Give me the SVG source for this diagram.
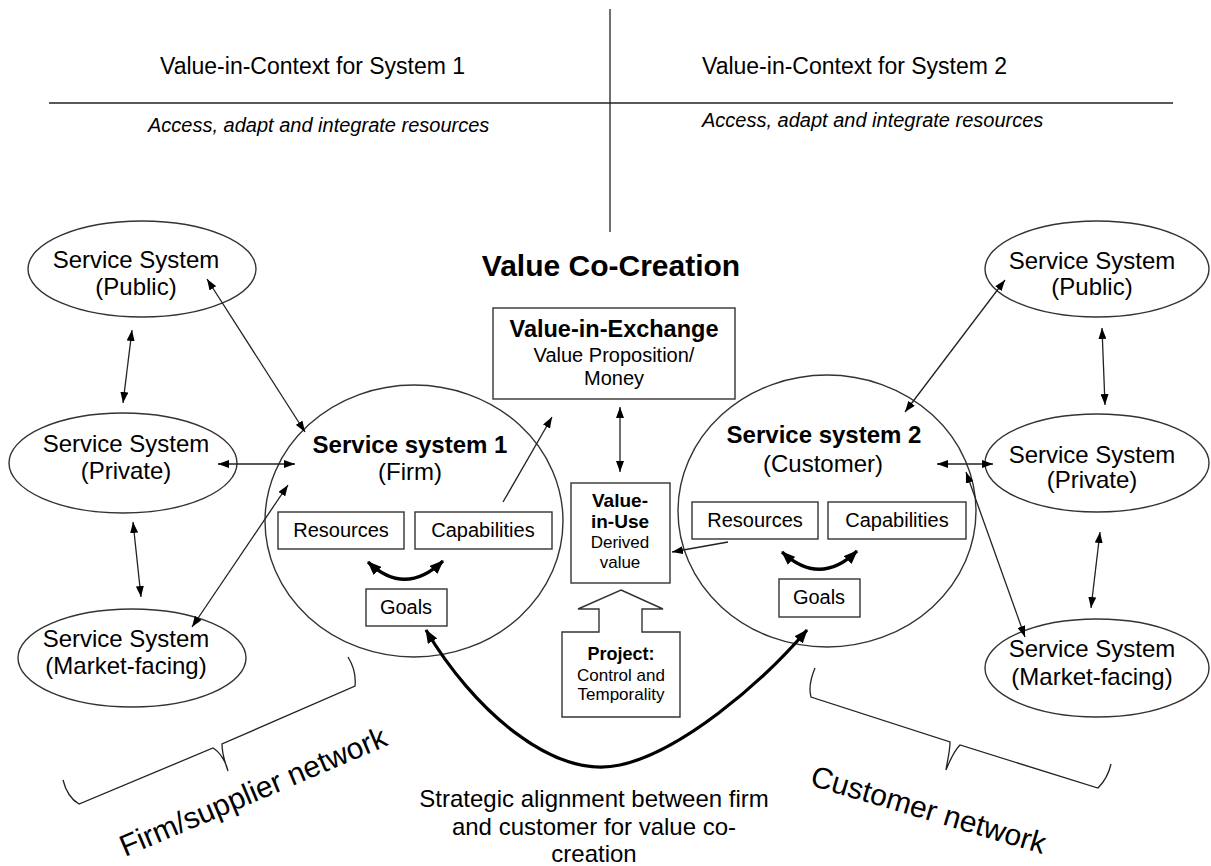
<svg xmlns="http://www.w3.org/2000/svg" width="1211" height="866" viewBox="0 0 1211 866">
<style>
text{font-family:"Liberation Sans",Arial,sans-serif;fill:#000}
.sh{fill:#fff;stroke:#333;stroke-width:1.4}
.c{stroke:#222;stroke-width:1.3;fill:none}
.cb{stroke:#000;stroke-width:3.2;fill:none}
.m{text-anchor:middle}
.b{font-weight:bold}
.es{font-size:24px}
.bx{font-size:20px}
</style>
<defs>
<marker id="a" viewBox="0 0 11 8" refX="11" refY="4" markerUnits="userSpaceOnUse" markerWidth="11" markerHeight="8" orient="auto-start-reverse"><path d="M0,0 L11,4 L0,8 z" fill="#000"/></marker>
<marker id="ab" viewBox="0 0 14 11" refX="13" refY="5.5" markerUnits="userSpaceOnUse" markerWidth="14" markerHeight="11" orient="auto-start-reverse"><path d="M0,0 L14,5.5 L0,11 z" fill="#000"/></marker>
</defs>
<rect width="1211" height="866" fill="#fff"/>

<g id="header">
<line x1="610" y1="9" x2="610" y2="232" class="c"/>
<line x1="49" y1="103" x2="1173" y2="103" class="c" stroke="#555"/>
<text x="160" y="74" font-size="23">Value-in-Context for System 1</text>
<text x="702" y="74" font-size="23">Value-in-Context for System 2</text>
<text x="148" y="132" font-size="20" font-style="italic">Access, adapt and integrate resources</text>
<text x="702" y="127" font-size="20" font-style="italic">Access, adapt and integrate resources</text>
</g>

<g id="title"><text x="611" y="276" class="m b" font-size="30">Value Co-Creation</text></g>

<g id="left-public"><ellipse cx="142" cy="269" rx="114" ry="48" class="sh"/>
<text x="136" y="268" class="m es">Service System</text><text x="136" y="295" class="m es">(Public)</text></g>
<g id="left-private"><ellipse cx="123" cy="463" rx="114" ry="50" class="sh"/>
<text x="126" y="452" class="m es">Service System</text><text x="126" y="479" class="m es">(Private)</text></g>
<g id="left-market"><ellipse cx="132" cy="658" rx="114" ry="49" class="sh"/>
<text x="126" y="647" class="m es">Service System</text><text x="126" y="674" class="m es">(Market-facing)</text></g>

<g id="right-public"><ellipse cx="1097" cy="269" rx="112" ry="48" class="sh"/>
<text x="1092" y="269" class="m es">Service System</text><text x="1092" y="295" class="m es">(Public)</text></g>
<g id="right-private"><ellipse cx="1097" cy="463" rx="112" ry="49" class="sh"/>
<text x="1092" y="463" class="m es">Service System</text><text x="1092" y="488" class="m es">(Private)</text></g>
<g id="right-market"><ellipse cx="1097" cy="668" rx="112" ry="49" class="sh"/>
<text x="1092" y="657" class="m es">Service System</text><text x="1092" y="685" class="m es">(Market-facing)</text></g>

<g id="service-system-1"><ellipse cx="414" cy="521" rx="149" ry="136" class="sh"/>
<text x="410" y="453" class="m b" font-size="24">Service system 1</text>
<text x="410" y="480" class="m" font-size="24">(Firm)</text></g>
<g id="resources-1"><rect x="278" y="512" width="126" height="37" class="sh"/><text x="341" y="537" class="m bx">Resources</text></g>
<g id="capabilities-1"><rect x="415" y="512" width="137" height="37" class="sh"/><text x="483" y="537" class="m bx">Capabilities</text></g>
<g id="goals-1"><rect x="366" y="589" width="81" height="37" class="sh"/><text x="406" y="614" class="m bx">Goals</text></g>

<g id="service-system-2"><ellipse cx="827" cy="511" rx="149" ry="136" class="sh"/>
<text x="824" y="443" class="m b" font-size="24">Service system 2</text>
<text x="823" y="472" class="m" font-size="24">(Customer)</text></g>
<g id="resources-2"><rect x="692" y="502" width="126" height="37" class="sh"/><text x="755" y="527" class="m bx">Resources</text></g>
<g id="capabilities-2"><rect x="828" y="502" width="138" height="37" class="sh"/><text x="897" y="527" class="m bx">Capabilities</text></g>
<g id="goals-2"><rect x="779" y="579" width="81" height="38" class="sh"/><text x="819" y="604" class="m bx">Goals</text></g>

<g id="value-in-exchange"><rect x="493" y="308" width="242" height="91" class="sh"/>
<text x="614" y="337" class="m b" font-size="23.5">Value-in-Exchange</text>
<text x="614" y="362" class="m bx">Value Proposition/</text>
<text x="614" y="385" class="m bx">Money</text></g>

<g id="value-in-use"><rect x="571" y="483" width="99" height="100" class="sh"/>
<text x="620" y="507" class="m b" font-size="19">Value-</text>
<text x="620" y="528" class="m b" font-size="19">in-Use</text>
<text x="620" y="548" class="m" font-size="17">Derived</text>
<text x="620" y="568" class="m" font-size="17">value</text></g>

<g id="project"><path d="M621,590 L663,609 L642,609 L642,632 L680,632 L680,717 L562,717 L562,632 L599,632 L599,609 L578,609 Z" class="sh"/>
<text x="621" y="660" class="m b" font-size="18">Project:</text>
<text x="621" y="681" class="m" font-size="17">Control and</text>
<text x="621" y="700" class="m" font-size="17">Temporality</text></g>

<g id="connectors">
<line x1="207" y1="279" x2="305" y2="432" class="c" marker-start="url(#a)" marker-end="url(#a)"/>
<line x1="132" y1="330" x2="123" y2="403" class="c" marker-start="url(#a)" marker-end="url(#a)"/>
<line x1="218" y1="464" x2="295" y2="464" class="c" marker-start="url(#a)" marker-end="url(#a)"/>
<line x1="192" y1="627" x2="288" y2="485" class="c" marker-start="url(#a)" marker-end="url(#a)"/>
<line x1="133" y1="522" x2="141" y2="597" class="c" marker-start="url(#a)" marker-end="url(#a)"/>
<line x1="1005" y1="280" x2="905" y2="412" class="c" marker-start="url(#a)" marker-end="url(#a)"/>
<line x1="1102" y1="328" x2="1105" y2="405" class="c" marker-start="url(#a)" marker-end="url(#a)"/>
<line x1="993" y1="464" x2="937" y2="464" class="c" marker-start="url(#a)" marker-end="url(#a)"/>
<line x1="1100" y1="532" x2="1091" y2="608" class="c" marker-start="url(#a)" marker-end="url(#a)"/>
<line x1="1025" y1="637" x2="966" y2="472" class="c" marker-start="url(#a)" marker-end="url(#a)"/>
<line x1="620" y1="407" x2="620" y2="472" class="c" marker-start="url(#a)" marker-end="url(#a)"/>
<line x1="503" y1="502" x2="552" y2="417" class="c" marker-end="url(#a)"/>
<line x1="728" y1="542" x2="672" y2="552" class="c" marker-end="url(#a)"/>
<path d="M368,562 Q405,597 443,561" class="cb" stroke-width="3" marker-start="url(#ab)" marker-end="url(#ab)"/>
<path d="M782,552 Q820,587 857,551" class="cb" stroke-width="3" marker-start="url(#ab)" marker-end="url(#ab)"/>
<path d="M426,630 C472,708 552,780 620,765 C680,752 760,685 807,630" class="cb" marker-start="url(#ab)" marker-end="url(#ab)"/>
</g>

<g id="braces">
<path d="M63,780 C66,792 72,800 79,804 L213,748 C220,752 226,762 228,771 C224,760 222,750 222,744 L355,686 C356,676 353,665 348,657" class="c"/>
<path d="M815,668 C810,680 809,690 811,697 L950,742 C950,752 947,762 946,770 C950,760 955,750 960,745 L1098,788 C1104,782 1109,773 1111,764" class="c"/>
</g>

<g id="labels">
<text transform="translate(125,857) rotate(-23)" font-size="30">Firm/supplier network</text>
<text transform="translate(809,785) rotate(16.5)" font-size="30">Customer network</text>
<text x="594" y="807" class="m" font-size="24">Strategic alignment between firm</text>
<text x="594" y="835" class="m" font-size="24">and customer for value co-</text>
<text x="594" y="862" class="m" font-size="24">creation</text>
</g>
</svg>
